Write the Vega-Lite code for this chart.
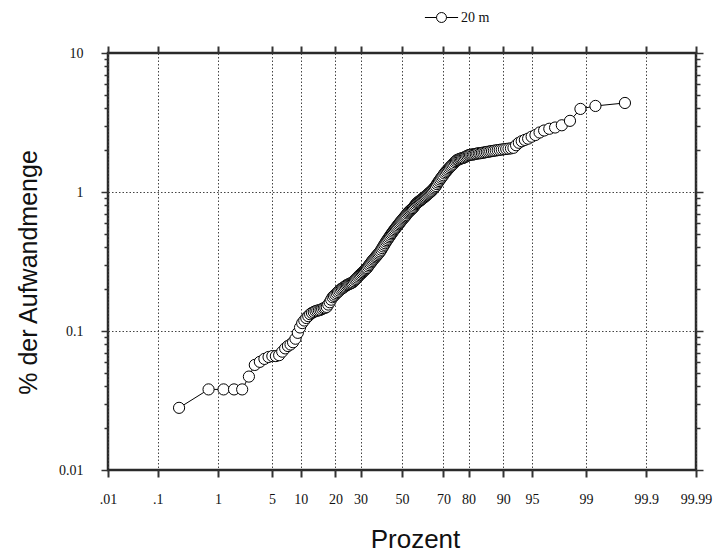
{
  "$schema": "https://vega.github.io/schema/vega-lite/v6.json",
  "width": 588,
  "height": 417,
  "autosize": {"type": "none"},
  "padding": {"left": 108, "top": 53, "right": 23, "bottom": 87},
  "background": "white",
  "config": {
    "view": {"stroke": "#2a2a2a", "strokeWidth": 2.5},
    "font": "Liberation Serif"
  },
  "data": {
    "values": [
      {"p": 0.24, "v": 0.028}, {"p": 0.72, "v": 0.038}, {"p": 1.20, "v": 0.038}, {"p": 1.68, "v": 0.038},
      {"p": 2.16, "v": 0.038}, {"p": 2.64, "v": 0.047}, {"p": 3.13, "v": 0.057}, {"p": 3.61, "v": 0.060},
      {"p": 4.09, "v": 0.063}, {"p": 4.57, "v": 0.065}, {"p": 5.05, "v": 0.066}, {"p": 5.53, "v": 0.066},
      {"p": 6.01, "v": 0.067}, {"p": 6.49, "v": 0.071}, {"p": 6.97, "v": 0.075}, {"p": 7.45, "v": 0.078},
      {"p": 7.93, "v": 0.080}, {"p": 8.41, "v": 0.083}, {"p": 8.89, "v": 0.088}, {"p": 9.38, "v": 0.097},
      {"p": 9.86, "v": 0.106}, {"p": 10.34, "v": 0.114}, {"p": 10.82, "v": 0.119}, {"p": 11.30, "v": 0.124},
      {"p": 11.78, "v": 0.128}, {"p": 12.26, "v": 0.132}, {"p": 12.74, "v": 0.135}, {"p": 13.22, "v": 0.137},
      {"p": 13.70, "v": 0.139}, {"p": 14.18, "v": 0.140}, {"p": 14.66, "v": 0.141}, {"p": 15.14, "v": 0.142},
      {"p": 15.62, "v": 0.144}, {"p": 16.11, "v": 0.146}, {"p": 16.59, "v": 0.147}, {"p": 17.07, "v": 0.149},
      {"p": 17.55, "v": 0.155}, {"p": 18.03, "v": 0.161}, {"p": 18.51, "v": 0.168}, {"p": 18.99, "v": 0.175},
      {"p": 19.47, "v": 0.179}, {"p": 19.95, "v": 0.183}, {"p": 20.43, "v": 0.187}, {"p": 20.91, "v": 0.191},
      {"p": 21.39, "v": 0.195}, {"p": 21.87, "v": 0.199}, {"p": 22.36, "v": 0.202}, {"p": 22.84, "v": 0.205},
      {"p": 23.32, "v": 0.208}, {"p": 23.80, "v": 0.211}, {"p": 24.28, "v": 0.214}, {"p": 24.76, "v": 0.216},
      {"p": 25.24, "v": 0.218}, {"p": 25.72, "v": 0.220}, {"p": 26.20, "v": 0.222}, {"p": 26.68, "v": 0.224},
      {"p": 27.16, "v": 0.228}, {"p": 27.64, "v": 0.233}, {"p": 28.13, "v": 0.237}, {"p": 28.61, "v": 0.242},
      {"p": 29.09, "v": 0.247}, {"p": 29.57, "v": 0.252}, {"p": 30.05, "v": 0.256}, {"p": 30.53, "v": 0.261},
      {"p": 31.01, "v": 0.265}, {"p": 31.49, "v": 0.270}, {"p": 31.97, "v": 0.275}, {"p": 32.45, "v": 0.280},
      {"p": 32.93, "v": 0.284}, {"p": 33.41, "v": 0.291}, {"p": 33.89, "v": 0.298}, {"p": 34.38, "v": 0.305},
      {"p": 34.86, "v": 0.312}, {"p": 35.34, "v": 0.319}, {"p": 35.82, "v": 0.326}, {"p": 36.30, "v": 0.332},
      {"p": 36.78, "v": 0.339}, {"p": 37.26, "v": 0.345}, {"p": 37.74, "v": 0.352}, {"p": 38.22, "v": 0.359},
      {"p": 38.70, "v": 0.366}, {"p": 39.18, "v": 0.374}, {"p": 39.66, "v": 0.384}, {"p": 40.14, "v": 0.395},
      {"p": 40.63, "v": 0.406}, {"p": 41.11, "v": 0.417}, {"p": 41.59, "v": 0.428}, {"p": 42.07, "v": 0.440},
      {"p": 42.55, "v": 0.450}, {"p": 43.03, "v": 0.461}, {"p": 43.51, "v": 0.472}, {"p": 43.99, "v": 0.483},
      {"p": 44.47, "v": 0.495}, {"p": 44.95, "v": 0.506}, {"p": 45.43, "v": 0.518}, {"p": 45.91, "v": 0.529},
      {"p": 46.39, "v": 0.540}, {"p": 46.88, "v": 0.552}, {"p": 47.36, "v": 0.563}, {"p": 47.84, "v": 0.575},
      {"p": 48.32, "v": 0.587}, {"p": 48.80, "v": 0.598}, {"p": 49.28, "v": 0.610}, {"p": 49.76, "v": 0.622},
      {"p": 50.24, "v": 0.634}, {"p": 50.72, "v": 0.646}, {"p": 51.20, "v": 0.658}, {"p": 51.68, "v": 0.670},
      {"p": 52.16, "v": 0.683}, {"p": 52.64, "v": 0.700}, {"p": 53.13, "v": 0.712}, {"p": 53.61, "v": 0.724},
      {"p": 54.09, "v": 0.735}, {"p": 54.57, "v": 0.746}, {"p": 55.05, "v": 0.757}, {"p": 55.53, "v": 0.767},
      {"p": 56.01, "v": 0.783}, {"p": 56.49, "v": 0.800}, {"p": 56.97, "v": 0.817}, {"p": 57.45, "v": 0.833},
      {"p": 57.93, "v": 0.843}, {"p": 58.41, "v": 0.853}, {"p": 58.89, "v": 0.864}, {"p": 59.38, "v": 0.875},
      {"p": 59.86, "v": 0.886}, {"p": 60.34, "v": 0.898}, {"p": 60.82, "v": 0.910}, {"p": 61.30, "v": 0.922},
      {"p": 61.78, "v": 0.935}, {"p": 62.26, "v": 0.948}, {"p": 62.74, "v": 0.962}, {"p": 63.22, "v": 0.976},
      {"p": 63.70, "v": 0.990}, {"p": 64.18, "v": 1.005}, {"p": 64.66, "v": 1.020}, {"p": 65.14, "v": 1.040},
      {"p": 65.63, "v": 1.060}, {"p": 66.11, "v": 1.080}, {"p": 66.59, "v": 1.105}, {"p": 67.07, "v": 1.14},
      {"p": 67.55, "v": 1.17}, {"p": 68.03, "v": 1.20}, {"p": 68.51, "v": 1.23}, {"p": 68.99, "v": 1.26},
      {"p": 69.47, "v": 1.29}, {"p": 69.95, "v": 1.32}, {"p": 70.43, "v": 1.36}, {"p": 70.91, "v": 1.39},
      {"p": 71.39, "v": 1.42}, {"p": 71.88, "v": 1.45}, {"p": 72.36, "v": 1.48}, {"p": 72.84, "v": 1.51},
      {"p": 73.32, "v": 1.54}, {"p": 73.80, "v": 1.57}, {"p": 74.28, "v": 1.60}, {"p": 74.76, "v": 1.64},
      {"p": 75.24, "v": 1.67}, {"p": 75.72, "v": 1.70}, {"p": 76.20, "v": 1.71}, {"p": 76.68, "v": 1.73},
      {"p": 77.16, "v": 1.74}, {"p": 77.64, "v": 1.75}, {"p": 78.13, "v": 1.76}, {"p": 78.61, "v": 1.78},
      {"p": 79.09, "v": 1.80}, {"p": 79.57, "v": 1.82}, {"p": 80.05, "v": 1.84}, {"p": 80.53, "v": 1.85},
      {"p": 81.01, "v": 1.86}, {"p": 81.49, "v": 1.86}, {"p": 81.97, "v": 1.87}, {"p": 82.45, "v": 1.88},
      {"p": 82.93, "v": 1.89}, {"p": 83.41, "v": 1.90}, {"p": 83.89, "v": 1.90}, {"p": 84.38, "v": 1.91},
      {"p": 84.86, "v": 1.92}, {"p": 85.34, "v": 1.93}, {"p": 85.82, "v": 1.94}, {"p": 86.30, "v": 1.95},
      {"p": 86.78, "v": 1.96}, {"p": 87.26, "v": 1.97}, {"p": 87.74, "v": 1.98}, {"p": 88.22, "v": 1.99},
      {"p": 88.70, "v": 2.00}, {"p": 89.18, "v": 2.01}, {"p": 89.66, "v": 2.02}, {"p": 90.14, "v": 2.03},
      {"p": 90.63, "v": 2.04}, {"p": 91.11, "v": 2.05}, {"p": 91.59, "v": 2.06}, {"p": 92.07, "v": 2.08},
      {"p": 92.55, "v": 2.17}, {"p": 93.03, "v": 2.26}, {"p": 93.51, "v": 2.32}, {"p": 93.99, "v": 2.37},
      {"p": 94.47, "v": 2.42}, {"p": 94.95, "v": 2.50}, {"p": 95.43, "v": 2.57}, {"p": 95.91, "v": 2.68},
      {"p": 96.39, "v": 2.77}, {"p": 96.88, "v": 2.85}, {"p": 97.36, "v": 2.91}, {"p": 97.84, "v": 3.02},
      {"p": 98.32, "v": 3.25}, {"p": 98.80, "v": 3.96}, {"p": 99.28, "v": 4.16}, {"p": 99.76, "v": 4.37}
    ]
  },
  "transform": [{"calculate": "quantileNormal(datum.p / 100)", "as": "z"}],
  "resolve": {"axis": {"x": "independent", "y": "independent"}},
  "layer": [
    {
      "mark": {
        "type": "line",
        "strokeWidth": 1,
        "point": {"filled": false, "fill": "white", "size": 125, "strokeWidth": 1, "opacity": 1}
      },
      "encoding": {
        "x": {
          "field": "z",
          "type": "quantitative",
          "scale": {"domain": [-3.719016, 3.719016], "nice": false, "zero": false},
          "axis": {
            "orient": "bottom",
            "title": "Prozent",
            "titleFont": "Liberation Sans",
            "titleFontSize": 26,
            "titleFontWeight": "normal",
            "titleColor": "#111",
            "titleX": 307,
            "titleY": 77,
            "titleAlign": "center",
            "titleBaseline": "alphabetic",
            "values": [-3.719016, -3.090232, -2.326348, -1.644854, -1.281552, -0.841621, -0.524401, 0, 0.524401, 0.841621, 1.281552, 1.644854, 2.326348, 3.090232, 3.719016],
            "labelExpr": "datum.value < -3.5 ? '.01' : datum.value < -3 ? '.1' : datum.value > 3.5 ? '99.99' : datum.value > 3 ? '99.9' : format(cumulativeNormal(datum.value) * 100, '.0f')",
            "labelFont": "Liberation Serif",
            "labelFontSize": 14,
            "labelColor": "#111",
            "labelPadding": 15,
            "labelFlush": false,
            "labelOverlap": false,
            "domain": false,
            "ticks": true,
            "tickSize": 7,
            "tickWidth": 2,
            "tickColor": "#333",
            "grid": true,
            "gridDash": [1.5, 2],
            "gridColor": "#444",
            "gridWidth": 1
          }
        },
        "y": {
          "field": "v",
          "type": "quantitative",
          "scale": {"type": "log", "domain": [0.01, 10], "nice": false},
          "axis": {
            "orient": "left",
            "title": "% der Aufwandmenge",
            "titleFont": "Liberation Sans",
            "titleFontSize": 25,
            "titleFontWeight": "normal",
            "titleColor": "#111",
            "titleAngle": -90,
            "titleX": -72,
            "titleY": 219,
            "titleAlign": "center",
            "titleBaseline": "alphabetic",
            "values": [0.01, 0.02, 0.03, 0.04, 0.05, 0.06, 0.07, 0.08, 0.09, 0.1, 0.2, 0.3, 0.4, 0.5, 0.6, 0.7, 0.8, 0.9, 1, 2, 3, 4, 5, 6, 7, 8, 9, 10],
            "labelExpr": "indexof([0.01, 0.1, 1, 10], datum.value) >= 0 ? toString(datum.value) : ''",
            "labelFont": "Liberation Serif",
            "labelFontSize": 14,
            "labelColor": "#111",
            "labelPadding": 18,
            "labelOverlap": false,
            "labelFlush": false,
            "domain": false,
            "tickSize": {"condition": {"test": "indexof([0.01, 0.1, 1, 10], datum.value) >= 0", "value": 7}, "value": 4},
            "tickWidth": 1.5,
            "tickColor": "#333",
            "grid": true,
            "gridOpacity": {"condition": {"test": "indexof([0.1, 1], datum.value) >= 0", "value": 1}, "value": 0},
            "gridDash": [1.5, 2],
            "gridColor": "#444",
            "gridWidth": 1
          }
        },
        "color": {
          "datum": "20 m",
          "scale": {"range": ["black"]},
          "legend": {
            "orient": "none",
            "legendX": 316,
            "legendY": -53,
            "title": null,
            "symbolType": "M-1,0H-0.3M0.3,0A0.3,0.3,0,1,1,-0.3,0A0.3,0.3,0,1,1,0.3,0M0.3,0H1",
            "symbolSize": 1100,
            "symbolStrokeWidth": 1,
            "symbolFillColor": "white",
            "symbolStrokeColor": "black",
            "labelFont": "Liberation Serif",
            "labelFontSize": 14,
            "labelColor": "#111",
            "labelOffset": 2
          }
        }
      }
    },
    {
      "mark": {"type": "point", "opacity": 0},
      "encoding": {
        "x": {
          "field": "z",
          "type": "quantitative",
          "axis": {
            "orient": "top",
            "title": null,
            "labels": false,
            "grid": false,
            "domain": false,
            "values": [-3.719016, -3.090232, -2.326348, -1.644854, -1.281552, -0.841621, -0.524401, 0, 0.524401, 0.841621, 1.281552, 1.644854, 2.326348, 3.090232, 3.719016],
            "tickSize": 7,
            "tickWidth": 2,
            "tickColor": "#333"
          }
        },
        "y": {
          "field": "v",
          "type": "quantitative",
          "axis": {
            "orient": "right",
            "title": null,
            "labels": false,
            "grid": false,
            "domain": false,
            "values": [0.01, 0.02, 0.03, 0.04, 0.05, 0.06, 0.07, 0.08, 0.09, 0.1, 0.2, 0.3, 0.4, 0.5, 0.6, 0.7, 0.8, 0.9, 1, 2, 3, 4, 5, 6, 7, 8, 9, 10],
            "tickSize": {"condition": {"test": "indexof([0.01, 0.1, 1, 10], datum.value) >= 0", "value": 7}, "value": 4},
            "tickWidth": 1.5,
            "tickColor": "#333"
          }
        }
      }
    }
  ]
}
